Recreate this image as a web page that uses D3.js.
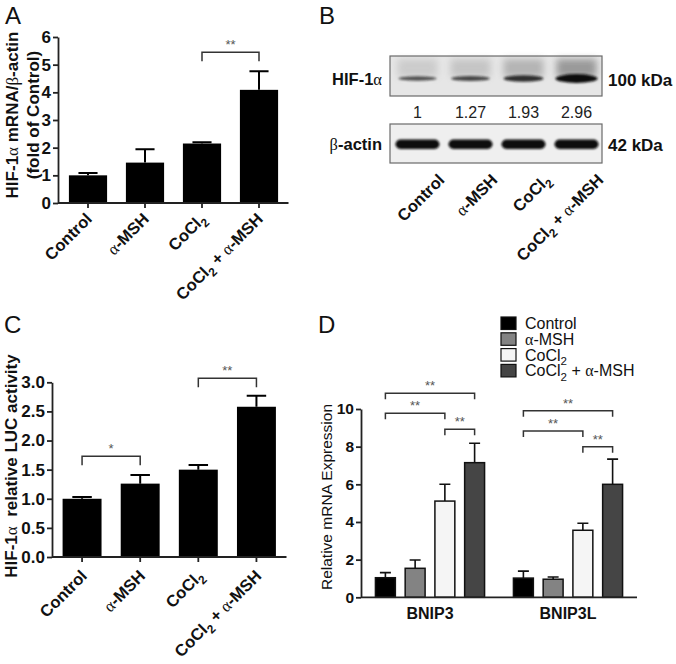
<!DOCTYPE html>
<html>
<head>
<meta charset="utf-8">
<script src="https://cdn.jsdelivr.net/npm/d3@7"></script>
<style>
  body { margin: 0; background: #fff; }
  svg text { font-family: "Liberation Sans", Arial, sans-serif; fill: #111; }
</style>
</head>
<body>
<div id="fig"></div>
<script>
// ---- data ----
var groups     = ['Control', 'α-MSH', 'CoCl_2', 'CoCl_2 + α-MSH'];

// A: HIF-1a mRNA / b-actin (fold of control)
var mrnaMean   = [1.0, 1.46, 2.15, 4.09];
var mrnaErr    = [0.08, 0.48, 0.05, 0.67];
var mrnaTicks  = [0, 1, 2, 3, 4, 5, 6];
var mrnaSig    = [[2, 3, 5.45, '**']];

// B: western blot densitometry
var blotRatio  = [1, 1.27, 1.93, 2.96];
var blotRows   = ['HIF-1α', 'β-actin'];
var blotSizes  = ['100 kDa', '42 kDa'];

// C: HIF-1a relative LUC activity
var lucMean    = [1.0, 1.26, 1.5, 2.58];
var lucErr     = [0.03, 0.15, 0.08, 0.19];
var lucTicks   = [0, 0.5, 1, 1.5, 2, 2.5, 3];
var lucSig     = [[0, 1, 1.73, '*'], [2, 3, 3.07, '**']];

// D: relative mRNA expression
var genes      = ['BNIP3', 'BNIP3L'];
var bnipMean   = [[1.04, 1.54, 5.11, 7.15], [1.02, 0.96, 3.56, 6.0]];
var bnipErr    = [[0.27, 0.44, 0.89, 1.03], [0.37, 0.12, 0.37, 1.34]];
var bnipTicks  = [0, 2, 4, 6, 8, 10];
var bnipSig    = [
  [[0, 3, 10.83, '**'], [0, 2, 9.77, '**'], [2, 3, 8.92, '**']],
  [[0, 3, 9.91, '**'], [0, 2, 8.83, '**'], [2, 3, 8.0, '**']]
];

var seriesColors = ['#000000', '#838383', '#f5f5f5', '#454545'];

var svg = d3.select('#fig').append('svg')
  .attr('width', 676).attr('height', 664);

// text with alpha/beta in a serif face and "_2" as subscript
function richText(el, label, fs) {
  var shifted = false;
  label.split(/(α|β|_2)/).forEach(function(p) {
    if (!p) return;
    var t = el.append('tspan');
    if (p === '_2') {
      t.text('2').attr('font-size', fs * 0.72).attr('dy', fs * 0.28);
      shifted = true;
      return;
    }
    if (shifted) { t.attr('dy', -fs * 0.28); shifted = false; }
    t.text(p);
    if (p === 'α' || p === 'β') {
      t.attr('font-family', '"Liberation Serif", "DejaVu Serif", serif')
       .attr('font-weight', 'normal');
    }
  });
  return el;
}

function panelLetter(txt, x, y) {
  svg.append('text').attr('x', x).attr('y', y)
    .attr('font-size', 24).text(txt);
}

function styleAxis(a, fs, weight) {
  a.attr('font-family', null).attr('font-size', null);
  a.select('.domain').attr('stroke', '#222').attr('stroke-width', 1.8);
  a.selectAll('.tick line').attr('stroke', '#222').attr('stroke-width', 1.8);
  a.selectAll('text').attr('font-size', fs).attr('font-weight', weight).attr('fill', '#111');
}

function brackets(g, sig, xpos, y, tick) {
  sig.forEach(function(s) {
    var x1 = xpos(s[0]), x2 = xpos(s[1]), yy = y(s[2]);
    g.append('path')
      .attr('d', 'M' + x1 + ',' + (yy + tick) + 'V' + yy + 'H' + x2 + 'V' + (yy + tick))
      .attr('fill', 'none').attr('stroke', '#333').attr('stroke-width', 1.5);
    g.append('text').attr('x', (x1 + x2) / 2).attr('y', yy - 3)
      .attr('text-anchor', 'middle').attr('font-size', 13).style('fill', '#555')
      .text(s[3]);
  });
}

// ---- simple 4-bar panel (A and C) ----
function barPanel(cfg) {
  var g = svg.append('g');
  var x = d3.scaleBand().domain(groups).range(cfg.xRange)
    .paddingInner(0.33).paddingOuter(0.165);
  var y = d3.scaleLinear().domain([0, cfg.ticks[cfg.ticks.length - 1]]).range(cfg.yRange);
  var cx = function(i) { return x(groups[i]) + x.bandwidth() / 2; };

  g.selectAll('rect.bar').data(cfg.mean).enter().append('rect')
    .attr('class', 'bar')
    .attr('x', function(d, i) { return x(groups[i]); })
    .attr('y', function(d) { return y(d); })
    .attr('width', x.bandwidth())
    .attr('height', function(d) { return y(0) - y(d); })
    .attr('fill', '#000');

  // error bars (upper only)
  cfg.mean.forEach(function(m, i) {
    var top = y(m + cfg.err[i]);
    g.append('path')
      .attr('d', 'M' + cx(i) + ',' + y(m) + 'V' + top +
                 'M' + (cx(i) - x.bandwidth() / 4) + ',' + top + 'H' + (cx(i) + x.bandwidth() / 4))
      .attr('stroke', '#000').attr('stroke-width', 2).attr('fill', 'none');
  });

  g.append('g').attr('transform', 'translate(' + cfg.axisX + ',0)')
    .call(d3.axisLeft(y).tickValues(cfg.ticks).tickSize(5).tickSizeOuter(0)
      .tickPadding(2).tickFormat(cfg.fmt))
    .call(styleAxis, 17, 'bold');

  var xa = g.append('g').attr('transform', 'translate(0,' + y(0) + ')');
  xa.append('line').attr('x1', cfg.axisX).attr('x2', cfg.xRange[1] + 1)
    .attr('stroke', '#222').attr('stroke-width', 1.8);
  groups.forEach(function(grp, i) {
    xa.append('line').attr('x1', cx(i)).attr('x2', cx(i)).attr('y2', 5)
      .attr('stroke', '#222').attr('stroke-width', 1.8);
    var t = xa.append('text')
      .attr('transform', 'translate(' + (cx(i) + cfg.lab[0]) + ',' + cfg.lab[1] + ') rotate(-45)')
      .attr('text-anchor', 'end').attr('font-size', 16.5).attr('font-weight', 'bold');
    richText(t, grp, 16.5);
  });

  brackets(g, cfg.sig, cx, y, 9);
  return g;
}

// ---- A ----
panelLetter('A', 5, 24);
barPanel({
  mean: mrnaMean, err: mrnaErr, ticks: mrnaTicks, sig: mrnaSig,
  xRange: [59.5, 287.5], yRange: [203, 37], axisX: 58,
  fmt: d3.format('d'), lab: [5, 17]
});
richText(svg.append('text').attr('transform', 'translate(18,115) rotate(-90)')
  .attr('text-anchor', 'middle').attr('font-size', 17).attr('font-weight', 'bold'),
  'HIF-1α mRNA/β-actin', 17);
svg.append('text').attr('transform', 'translate(39,115) rotate(-90)')
  .attr('text-anchor', 'middle').attr('font-size', 17).attr('font-weight', 'bold')
  .text('(fold of Control)');

// ---- C ----
panelLetter('C', 4, 333);
barPanel({
  mean: lucMean, err: lucErr, ticks: lucTicks, sig: lucSig,
  xRange: [53, 285.5], yRange: [557, 382.3], axisX: 52,
  fmt: d3.format('.1f'), lab: [6, 20]
});
richText(svg.append('text').attr('transform', 'translate(17,466) rotate(-90)')
  .attr('text-anchor', 'middle').attr('font-size', 17).attr('font-weight', 'bold')
  .attr('xml:space', 'preserve'),
  'HIF-1α  relative LUC activity', 17);

// ---- B: western blot ----
panelLetter('B', 319, 24);
(function() {
  var g = svg.append('g');
  var lane = d3.scaleBand().domain(groups).range([391, 603]);
  var lc = function(i) { return lane(groups[i]) + lane.bandwidth() / 2; };
  var defs = svg.append('defs');
  defs.append('filter').attr('id', 'blur1').attr('x', '-20%').attr('y', '-100%')
    .attr('width', '140%').attr('height', '300%')
    .append('feGaussianBlur').attr('stdDeviation', 1.1);
  defs.append('filter').attr('id', 'blur3').attr('x', '-30%').attr('y', '-50%')
    .attr('width', '160%').attr('height', '200%')
    .append('feGaussianBlur').attr('stdDeviation', 3.5);
  var maxR = d3.max(blotRatio);
  var boxes = [[56, 96, '#e6e6e6'], [124, 163, '#efefef']];

  boxes.forEach(function(b) {
    g.append('rect').attr('x', 390).attr('y', b[0]).attr('width', 212).attr('height', b[1] - b[0])
      .attr('fill', b[2]);
  });

  // HIF-1a lanes: smear + band, darkness from densitometry ratio
  blotRatio.forEach(function(r, i) {
    var k = (r - 1) / (maxR - 1);
    g.append('rect').attr('x', lc(i) - 20).attr('y', 59).attr('width', 40).attr('height', 18)
      .attr('fill', '#808080').attr('opacity', 0.25 + 0.5 * k)
      .attr('filter', 'url(#blur3)');
    g.append('ellipse').attr('cx', lc(i)).attr('cy', 78.5)
      .attr('rx', 19 + 2 * k).attr('ry', 2.2 + 2.2 * k)
      .attr('fill', '#111').attr('opacity', 0.5 + 0.5 * r / maxR)
      .attr('filter', 'url(#blur1)');
  });
  // beta-actin lanes
  groups.forEach(function(grp, i) {
    g.append('rect').attr('x', lc(i) - 22).attr('y', 139.5).attr('width', 44).attr('height', 9.5)
      .attr('rx', 5).attr('fill', '#0d0d0d').attr('filter', 'url(#blur1)');
  });

  boxes.forEach(function(b) {
    g.append('rect').attr('x', 390).attr('y', b[0]).attr('width', 212).attr('height', b[1] - b[0])
      .attr('fill', 'none').attr('stroke', '#6a6a6a').attr('stroke-width', 1.2);
  });

  [85, 150].forEach(function(yy, j) {
    richText(g.append('text').attr('x', 382).attr('y', yy).attr('text-anchor', 'end')
      .attr('font-size', 16.5).attr('font-weight', 'bold'), blotRows[j], 16.5);
    g.append('text').attr('x', 608).attr('y', yy + 1)
      .attr('font-size', 17).attr('font-weight', 'bold').text(blotSizes[j]);
  });

  blotRatio.forEach(function(r, i) {
    g.append('text').attr('x', lc(i)).attr('y', 118).attr('text-anchor', 'middle')
      .attr('font-size', 16).style('fill', '#222').text(d3.format('')(r));
  });

  groups.forEach(function(grp, i) {
    var t = g.append('text')
      .attr('transform', 'translate(' + (lc(i) + 28) + ',181) rotate(-45)')
      .attr('text-anchor', 'end').attr('font-size', 16.5).attr('font-weight', 'bold');
    richText(t, grp, 16.5);
  });
})();

// ---- D: grouped bars ----
panelLetter('D', 318, 333);
(function() {
  var g = svg.append('g');
  var x0 = d3.scaleBand().domain(genes).range([361, 637]).paddingInner(0.138).paddingOuter(0.069);
  var x1 = d3.scaleBand().domain(d3.range(4)).range([0, x0.bandwidth()])
    .paddingInner(0.33).paddingOuter(0.165);
  var y = d3.scaleLinear().domain([0, 10]).range([597.3, 409]);

  genes.forEach(function(gene, gi) {
    var gx = x0(gene);
    var cx = function(i) { return gx + x1(i) + x1.bandwidth() / 2; };
    bnipMean[gi].forEach(function(m, i) {
      var top = y(m + bnipErr[gi][i]);
      g.append('path')
        .attr('d', 'M' + cx(i) + ',' + y(m) + 'V' + top +
                   'M' + (cx(i) - 5.5) + ',' + top + 'H' + (cx(i) + 5.5))
        .attr('stroke', '#111').attr('stroke-width', 1.6).attr('fill', 'none');
    });
    g.selectAll(null).data(bnipMean[gi]).enter().append('rect')
      .attr('x', function(d, i) { return gx + x1(i); })
      .attr('y', function(d) { return y(d); })
      .attr('width', x1.bandwidth())
      .attr('height', function(d) { return y(0) - y(d); })
      .attr('fill', function(d, i) { return seriesColors[i]; })
      .attr('stroke', '#111').attr('stroke-width', 1.5);
    brackets(g, bnipSig[gi], cx, y, 6);
    g.append('text').attr('x', gx + x0.bandwidth() / 2).attr('y', 619)
      .attr('text-anchor', 'middle').attr('font-size', 16).attr('font-weight', 'bold')
      .text(gene);
  });

  g.append('g').attr('transform', 'translate(361,0)')
    .call(d3.axisLeft(y).tickValues(bnipTicks).tickSize(5).tickSizeOuter(0).tickPadding(2))
    .call(styleAxis, 15.5, 'bold');
  g.append('line').attr('x1', 361).attr('x2', 637).attr('y1', y(0)).attr('y2', y(0))
    .attr('stroke', '#222').attr('stroke-width', 1.8);

  g.append('text').attr('transform', 'translate(332,497) rotate(-90)')
    .attr('text-anchor', 'middle').attr('font-size', 15.5)
    .text('Relative mRNA Expression');

  // legend
  var lg = g.append('g').attr('transform', 'translate(501,317)');
  groups.forEach(function(grp, i) {
    lg.append('rect').attr('x', 0).attr('y', i * 15.8).attr('width', 15).attr('height', 12.5)
      .attr('fill', seriesColors[i]).attr('stroke', '#111').attr('stroke-width', 1.2);
    richText(lg.append('text').attr('x', 24).attr('y', i * 15.8 + 12)
      .attr('font-size', 16), grp, 16);
  });
})();
</script>
</body>
</html>
